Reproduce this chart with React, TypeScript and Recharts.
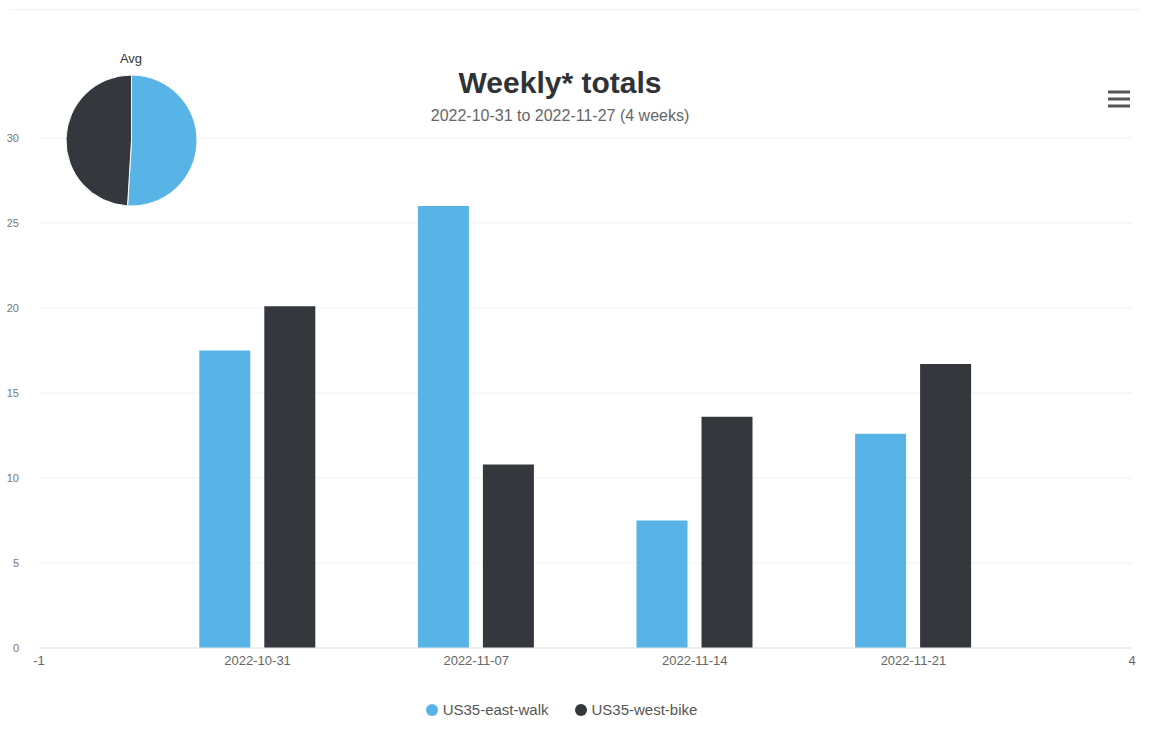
import { BarChart, Bar, XAxis, YAxis, CartesianGrid, PieChart, Pie, Cell } from "recharts";

// weeks shown on the x axis (positions 0..3, axis runs -1..4)
const weeks = ["2022-10-31", "2022-11-07", "2022-11-14", "2022-11-21"];
const eastWalk = [17.5, 26.0, 7.5, 12.6];
const westBike = [20.1, 10.8, 13.6, 16.7];
const yTicks = [0, 5, 10, 15, 20, 25, 30];
const xTicks = [-1, 0, 1, 2, 3, 4];

const WALK = "#58b3e6";
const BIKE = "#34383d";
const FONT = '"Liberation Sans", Arial, sans-serif';

const data = weeks.map((w, i) => ({ pos: i, week: w, walk: eastWalk[i], bike: westBike[i] }));

const avg = (arr: number[]) => arr.reduce((s, v) => s + v, 0) / arr.length;
const pieData = [
  { name: "US35-east-walk", value: avg(eastWalk), color: WALK },
  { name: "US35-west-bike", value: avg(westBike), color: BIKE },
];

const xLabel = (v: number) => (v >= 0 && v < weeks.length ? weeks[v] : String(v));

const YTick = ({ x, y, payload }: any) => (
  <text x={x - 12} y={y} dy={4} textAnchor="end" fontSize={11} fill="#777" fontFamily={FONT}>
    {payload.value}
  </text>
);

export default function App() {
  return (
    <div style={{ position: "absolute", left: 0, top: 0, width: 1149, height: 746, background: "#fff", fontFamily: FONT }}>
      <div style={{ position: "absolute", left: 10, right: 10, top: 9, height: 1, background: "#f0f0f0" }} />

      <BarChart
        width={1149}
        height={746}
        data={data}
        margin={{ top: 138, right: 17, bottom: 68, left: 0 }}
        barSize={51}
        barGap={14}
      >
        <CartesianGrid vertical={false} stroke="#f1f1f1" />
        <XAxis
          dataKey="pos"
          type="number"
          domain={[-1, 4]}
          ticks={xTicks}
          interval={0}
          tickFormatter={xLabel}
          axisLine={{ stroke: "#e6e6e6" }}
          tickLine={false}
          tick={{ fontSize: 13, fill: "#666", fontFamily: FONT }}
          height={30}
        />
        <YAxis
          width={39}
          domain={[0, 30]}
          ticks={yTicks}
          interval={0}
          axisLine={false}
          tickLine={false}
          tick={<YTick />}
        />
        <Bar dataKey="walk" fill={WALK} isAnimationActive={false} />
        <Bar dataKey="bike" fill={BIKE} isAnimationActive={false} />
      </BarChart>

      {/* title */}
      <div style={{ position: "absolute", left: 0, width: 1120, top: 68, textAlign: "center", fontSize: 30, lineHeight: "30px", fontWeight: "bold", color: "#2f3337" }}>
        Weekly* totals
      </div>
      <div style={{ position: "absolute", left: 0, width: 1120, top: 108, textAlign: "center", fontSize: 16, lineHeight: "16px", color: "#666" }}>
        2022-10-31 to 2022-11-27 (4 weeks)
      </div>

      {/* menu icon */}
      <svg style={{ position: "absolute", left: 1104, top: 88 }} width={30} height={24}>
        {[4, 11, 18].map((y) => (
          <line key={y} x1={4} x2={26} y1={y} y2={y} stroke="#555" strokeWidth={3} />
        ))}
      </svg>

      {/* average pie */}
      <div style={{ position: "absolute", left: 81, width: 100, top: 52, textAlign: "center", fontSize: 13, lineHeight: "13px", color: "#333" }}>
        Avg
      </div>
      <div style={{ position: "absolute", left: 61, top: 70 }}>
        <PieChart width={141} height={141} margin={{ top: 0, right: 0, bottom: 0, left: 0 }}>
          <Pie
            data={pieData}
            dataKey="value"
            cx={70.5}
            cy={70.5}
            outerRadius={65.5}
            startAngle={90}
            endAngle={-270}
            stroke="#fff"
            strokeWidth={1}
            isAnimationActive={false}
          >
            {pieData.map((d) => (
              <Cell key={d.name} fill={d.color} />
            ))}
          </Pie>
        </PieChart>
      </div>

      {/* legend */}
      <div style={{ position: "absolute", left: 0, width: 1123, top: 701, display: "flex", justifyContent: "center", gap: 26, fontSize: 15, lineHeight: "18px", color: "#555" }}>
        {pieData.map((d) => (
          <div key={d.name} style={{ display: "flex", alignItems: "center", gap: 5 }}>
            <span style={{ width: 12, height: 12, borderRadius: 6, background: d.color, display: "inline-block" }} />
            <span>{d.name}</span>
          </div>
        ))}
      </div>
    </div>
  );
}
